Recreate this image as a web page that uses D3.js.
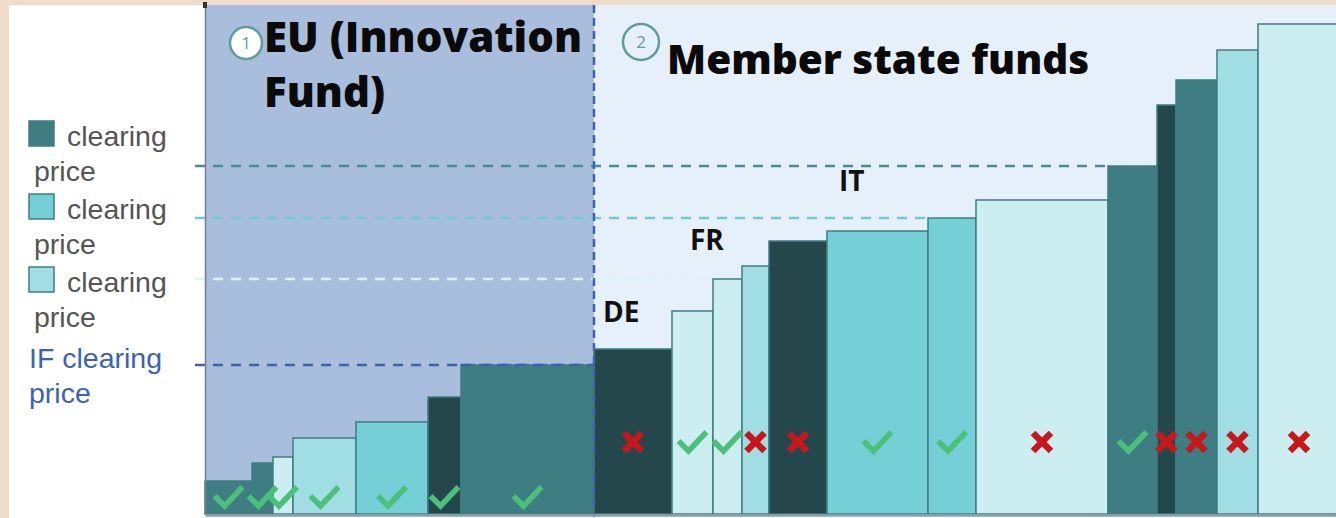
<!DOCTYPE html>
<html>
<head>
<meta charset="utf-8">
<script src="https://cdn.jsdelivr.net/npm/d3@7"></script>
<style>
  html, body { margin: 0; padding: 0; background: #efdccb; }
  svg { display: block; }
</style>
</head>
<body>
<svg id="chart" width="1336" height="518"></svg>
<script>
// bars in merit order: capacity (bar width) and bid price (bar height)
const capacity = [47, 21, 20, 63, 72, 33, 133, 78, 41, 29, 27, 58, 101, 48, 132, 49, 19, 41, 41, 82];
const price = [33, 51, 57, 76, 92, 117, 149, 165, 203, 235, 248, 273, 283, 296, 314, 348, 409, 434, 464, 490];
const tech = ['teal', 'teal', 'pale', 'light', 'cyan', 'dark', 'teal',
  'dark', 'pale', 'pale', 'light', 'dark', 'cyan', 'cyan', 'pale', 'teal', 'dark', 'teal', 'light', 'pale'];
const scheme = ['EU', 'EU', 'EU', 'EU', 'EU', 'EU', 'EU',
  'MS', 'MS', 'MS', 'MS', 'MS', 'MS', 'MS', 'MS', 'MS', 'MS', 'MS', 'MS', 'MS'];
const result = ['ok', 'ok', 'ok', 'ok', 'ok', 'ok', 'ok',
  'no', 'ok', 'ok', 'no', 'no', 'ok', 'ok', 'no', 'ok', 'no', 'no', 'no', 'no'];

// clearing prices (dashed lines), and the bar where each line stops
const clearingName = ['IF', 'pale', 'cyan', 'teal'];
const clearingPrice = [149, 235, 296, 348];
const clearingBar = [7, 9, 13, 15];

const countries = ['DE', 'FR', 'IT'];
const countryAt = [398, 485, 634];      // capacity units
const countryPrice = [192, 264, 323];

const legendKeys = ['teal', 'cyan', 'light'];

const colors = {
  dark: '#23474a', teal: '#3e7e82', cyan: '#74cfd6', light: '#a0dee3', pale: '#cdeef0'
};
const lineColors = { IF: '#3b63b0', pale: '#dcf2f4', cyan: '#6fcbd2', teal: '#4b8c90' };

const svg = d3.select('#chart');

// white panel
svg.append('rect').attr('x', 9).attr('y', 5).attr('width', 1327).attr('height', 513).attr('fill', '#ffffff');

const plotLeft = 205, plotRight = 1340, base = 514, plotTop = 5;
const starts = d3.cumsum([0].concat(capacity.slice(0, -1)));
const total = d3.sum(capacity);

const x = d3.scaleLinear().domain([0, total]).range([plotLeft, plotRight]);
const y = d3.scaleLinear().domain([0, base - plotTop]).range([base, plotTop]);

const split = x(starts[7]);

// region backgrounds
svg.append('rect').attr('x', plotLeft).attr('y', plotTop).attr('width', split - plotLeft).attr('height', base - plotTop).attr('fill', '#a9bddc');
svg.append('rect').attr('x', split).attr('y', plotTop).attr('width', 1336 - split).attr('height', base - plotTop).attr('fill', '#e6f0fb');

// clearing price lines
clearingName.forEach((c, i) => {
  svg.append('line')
    .attr('x1', plotLeft - 10).attr('x2', x(starts[clearingBar[i]]))
    .attr('y1', y(clearingPrice[i])).attr('y2', y(clearingPrice[i]))
    .attr('stroke', lineColors[c]).attr('stroke-width', 2.5)
    .attr('stroke-dasharray', '10,8');
});

// bars
svg.selectAll('rect.bar')
  .data(capacity)
  .enter().append('rect')
  .attr('class', 'bar')
  .attr('x', (d, i) => x(starts[i]))
  .attr('y', (d, i) => y(price[i]))
  .attr('width', (d, i) => x(starts[i] + d) - x(starts[i]))
  .attr('height', (d, i) => base - y(price[i]))
  .attr('fill', (d, i) => colors[tech[i]])
  .attr('stroke', '#3e7e82')
  .attr('stroke-width', 1.5);

// IF clearing line drawn over the top of the last EU bar
svg.append('line')
  .attr('x1', x(starts[6])).attr('x2', split)
  .attr('y1', y(clearingPrice[0])).attr('y2', y(clearingPrice[0]))
  .attr('stroke', lineColors.IF).attr('stroke-width', 2.5)
  .attr('stroke-dasharray', '10,8');

// divider between the two schemes
svg.append('line')
  .attr('x1', split).attr('x2', split).attr('y1', plotTop).attr('y2', base + 3)
  .attr('stroke', '#3b63b0').attr('stroke-width', 2.5)
  .attr('stroke-dasharray', '8,5');

// axes
svg.append('g')
  .attr('transform', `translate(${plotLeft},0)`)
  .call(d3.axisLeft(y).ticks(0).tickSizeOuter(0))
  .call(g => g.select('.domain').attr('stroke', '#6f7f8f').attr('stroke-width', 1.5));
svg.append('g')
  .attr('transform', `translate(0,${base + 1})`)
  .call(d3.axisBottom(x).ticks(0).tickSizeOuter(0))
  .call(g => g.select('.domain').attr('stroke', '#8d9db0').attr('stroke-width', 2.5));
svg.append('rect').attr('x', plotLeft - 2).attr('y', 2).attr('width', 4).attr('height', 6).attr('fill', '#333');

// outcome marks
const marks = svg.selectAll('g.mark')
  .data(result)
  .enter().append('g')
  .attr('class', 'mark')
  .attr('transform', (d, i) => `translate(${x(starts[i] + capacity[i] / 2)},${scheme[i] === 'EU' ? y(17) : y(72)})`);

marks.filter(d => d === 'ok').append('path')
  .attr('d', 'M-14,-1 L-4,9 L14,-10')
  .attr('fill', 'none')
  .attr('stroke', '#4cbf7a')
  .attr('stroke-width', 5.5);

marks.filter(d => d === 'no').append('path')
  .attr('d', 'M-9,-9 L9,9 M9,-9 L-9,9')
  .attr('fill', 'none')
  .attr('stroke', '#c8161d')
  .attr('stroke-width', 6.5);

// country labels
svg.selectAll('text.country')
  .data(countries)
  .enter().append('text')
  .attr('class', 'country')
  .attr('x', (d, i) => x(countryAt[i]))
  .attr('y', (d, i) => y(countryPrice[i]))
  .attr('font-family', 'Open Sans, sans-serif')
  .attr('font-weight', 700)
  .attr('font-size', 28)
  .attr('fill', '#111')
  .text(d => d);

// titles
function badge(cx, cy, r, n, fill) {
  svg.append('circle').attr('cx', cx).attr('cy', cy).attr('r', r)
    .attr('fill', fill).attr('stroke', '#5f9c9c').attr('stroke-width', 2.5);
  svg.append('text').attr('x', cx).attr('y', cy + 6).attr('text-anchor', 'middle')
    .attr('font-family', 'Open Sans, sans-serif').attr('font-size', 17).attr('fill', '#5f9c9c')
    .text(n);
}
badge(246, 43, 16, '1', '#ffffff');
badge(641, 42, 18, '2', 'none');

const title = (tx, ty, t, fs) => svg.append('text').attr('x', tx).attr('y', ty)
  .attr('font-family', 'Open Sans, sans-serif').attr('font-weight', 800)
  .attr('font-size', fs).attr('fill', '#0a0a0a').text(t);
title(264, 52, 'EU (Innovation', 42);
title(264, 107, 'Fund)', 42);
title(667, 74, 'Member state funds', 40.5);

// legend
const legend = svg.append('g').attr('font-family', 'Liberation Sans, Arial, sans-serif').attr('font-size', 28.5);
legendKeys.forEach((k, i) => {
  const ly = 121 + i * 73;
  legend.append('rect').attr('x', 29).attr('y', ly).attr('width', 25).attr('height', 25)
    .attr('fill', colors[k]).attr('stroke', '#3e7e82').attr('stroke-width', 1.5);
  legend.append('text').attr('x', 67).attr('y', ly + 25).attr('fill', '#555').text('clearing');
  legend.append('text').attr('x', 34).attr('y', ly + 60).attr('fill', '#555').text('price');
});
legend.append('text').attr('x', 29).attr('y', 368).attr('fill', '#3b63b0').text('IF clearing');
legend.append('text').attr('x', 29).attr('y', 403).attr('fill', '#3b63b0').text('price');
</script>
</body>
</html>
